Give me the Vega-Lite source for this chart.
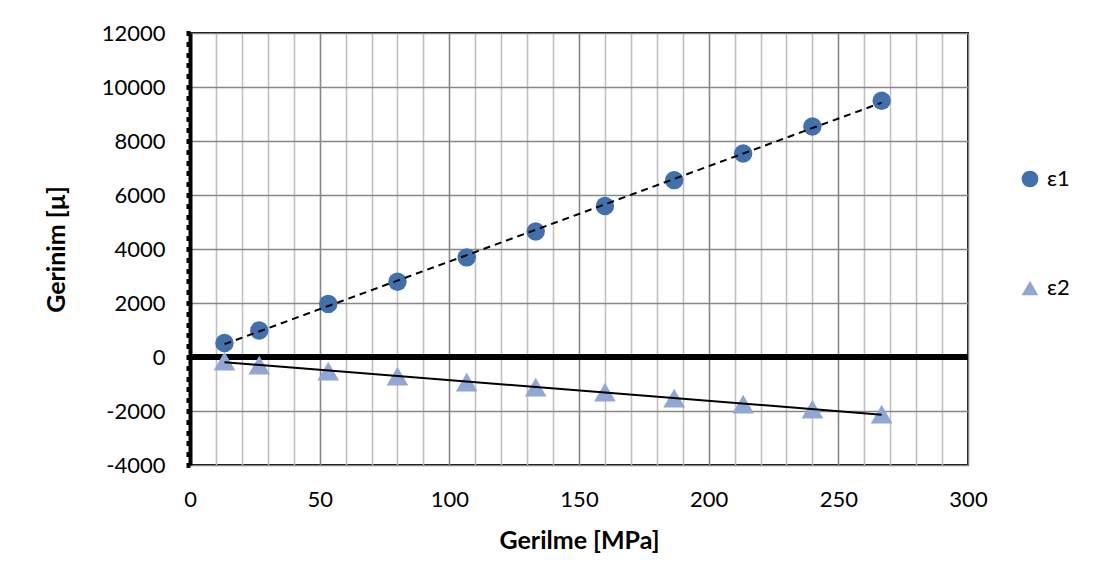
{
  "$schema": "https://vega.github.io/schema/vega-lite/v6.json",
  "autosize": "none",
  "width": 778,
  "height": 432,
  "padding": {"left": 190, "top": 33, "right": 137, "bottom": 119},
  "background": "white",
  "config": {
    "font": "Lato",
    "view": {"stroke": "black", "strokeWidth": 2},
    "axis": {"labelFont": "Lato", "titleFont": "Lato", "labelColor": "black", "titleColor": "black"}
  },
  "data": {
    "values": [
      {"stress": 13.3, "strain": 520, "series": "ε1"},
      {"stress": 26.7, "strain": 985, "series": "ε1"},
      {"stress": 53.3, "strain": 1967, "series": "ε1"},
      {"stress": 80, "strain": 2790, "series": "ε1"},
      {"stress": 106.7, "strain": 3690, "series": "ε1"},
      {"stress": 133.3, "strain": 4650, "series": "ε1"},
      {"stress": 160, "strain": 5590, "series": "ε1"},
      {"stress": 186.7, "strain": 6550, "series": "ε1"},
      {"stress": 213.3, "strain": 7535, "series": "ε1"},
      {"stress": 240, "strain": 8537, "series": "ε1"},
      {"stress": 266.7, "strain": 9490, "series": "ε1"},
      {"stress": 13.3, "strain": -150, "series": "ε2"},
      {"stress": 26.7, "strain": -300, "series": "ε2"},
      {"stress": 53.3, "strain": -520, "series": "ε2"},
      {"stress": 80, "strain": -705, "series": "ε2"},
      {"stress": 106.7, "strain": -930, "series": "ε2"},
      {"stress": 133.3, "strain": -1114, "series": "ε2"},
      {"stress": 160, "strain": -1300, "series": "ε2"},
      {"stress": 186.7, "strain": -1522, "series": "ε2"},
      {"stress": 213.3, "strain": -1745, "series": "ε2"},
      {"stress": 240, "strain": -1930, "series": "ε2"},
      {"stress": 266.7, "strain": -2116, "series": "ε2"}
    ]
  },
  "encoding": {
    "x": {
      "field": "stress", "type": "quantitative",
      "scale": {"domain": [0, 300], "nice": false},
      "axis": {
        "title": "Gerilme [MPa]",
        "titleFontSize": 25, "titleFontWeight": "bold", "titlePadding": 18,
        "values": [0,10,20,30,40,50,60,70,80,90,100,110,120,130,140,150,160,170,180,190,200,210,220,230,240,250,260,270,280,290,300],
        "labelExpr": "datum.value % 50 === 0 ? datum.label : ''",
        "labelFontSize": 22, "labelPadding": 24, "labelFlush": false, "labelOverlap": false,
        "ticks": false, "domain": false,
        "grid": true,
        "gridWidth": 1.6,
        "gridColor": {"condition": {"test": "datum.value % 50 === 0", "value": "#878787"}, "value": "#c0c0c0"}
      }
    },
    "y": {
      "field": "strain", "type": "quantitative",
      "scale": {"domain": [-4000, 12000], "nice": false},
      "axis": {
        "title": "Gerinim [µ]",
        "titleFontSize": 25, "titleFontWeight": "bold", "titlePadding": 32,
        "values": [-4000,-3600,-3200,-2800,-2400,-2000,-1600,-1200,-800,-400,0,400,800,1200,1600,2000,2400,2800,3200,3600,4000,4400,4800,5200,5600,6000,6400,6800,7200,7600,8000,8400,8800,9200,9600,10000,10400,10800,11200,11600,12000],
        "labelExpr": "datum.value % 2000 === 0 ? '' + datum.value : ''",
        "labelFontSize": 22, "labelPadding": 21, "labelOverlap": false, "labelFlush": false,
        "domain": true, "domainColor": "black", "domainWidth": 4,
        "ticks": true, "tickColor": "black", "tickSize": 4, "tickWidth": 5,
        "grid": true, "gridWidth": 1.6, "gridColor": "#878787",
        "gridOpacity": {"condition": {"test": "datum.value % 2000 === 0", "value": 1}, "value": 0}
      }
    },
    "color": {
      "field": "series", "type": "nominal",
      "scale": {"domain": ["ε1", "ε2"], "range": ["#4170ab", "#8fa7d2"]},
      "legend": {
        "title": null, "orient": "none", "legendX": 829, "legendY": 135,
        "labelFontSize": 22, "labelFont": "Lato", "labelColor": "black",
        "symbolSize": 280, "rowPadding": 87, "padding": 0, "labelOffset": 6,
        "symbolOpacity": 1
      }
    },
    "shape": {
      "field": "series", "type": "nominal",
      "scale": {"domain": ["ε1", "ε2"], "range": ["circle", "triangle-up"]},
      "legend": null
    }
  },
  "layer": [
    {
      "mark": {"type": "rule", "color": "black", "strokeWidth": 5.5},
      "encoding": {"y": {"datum": 0}, "x": null, "color": null, "shape": null}
    },
    {
      "transform": [{"filter": "datum.series === 'ε1'"}],
      "mark": {"type": "point", "filled": true, "opacity": 1, "size": 340}
    },
    {
      "transform": [{"filter": "datum.series === 'ε2'"}],
      "mark": {"type": "point", "filled": true, "opacity": 1, "size": 470}
    },
    {
      "transform": [
        {"filter": "datum.series === 'ε1'"},
        {"regression": "strain", "on": "stress"}
      ],
      "mark": {"type": "line", "color": "black", "strokeWidth": 2, "strokeDash": [7, 5]},
      "encoding": {"color": null, "shape": null}
    },
    {
      "transform": [
        {"filter": "datum.series === 'ε2'"},
        {"regression": "strain", "on": "stress"}
      ],
      "mark": {"type": "line", "color": "black", "strokeWidth": 2},
      "encoding": {"color": null, "shape": null}
    }
  ]
}
